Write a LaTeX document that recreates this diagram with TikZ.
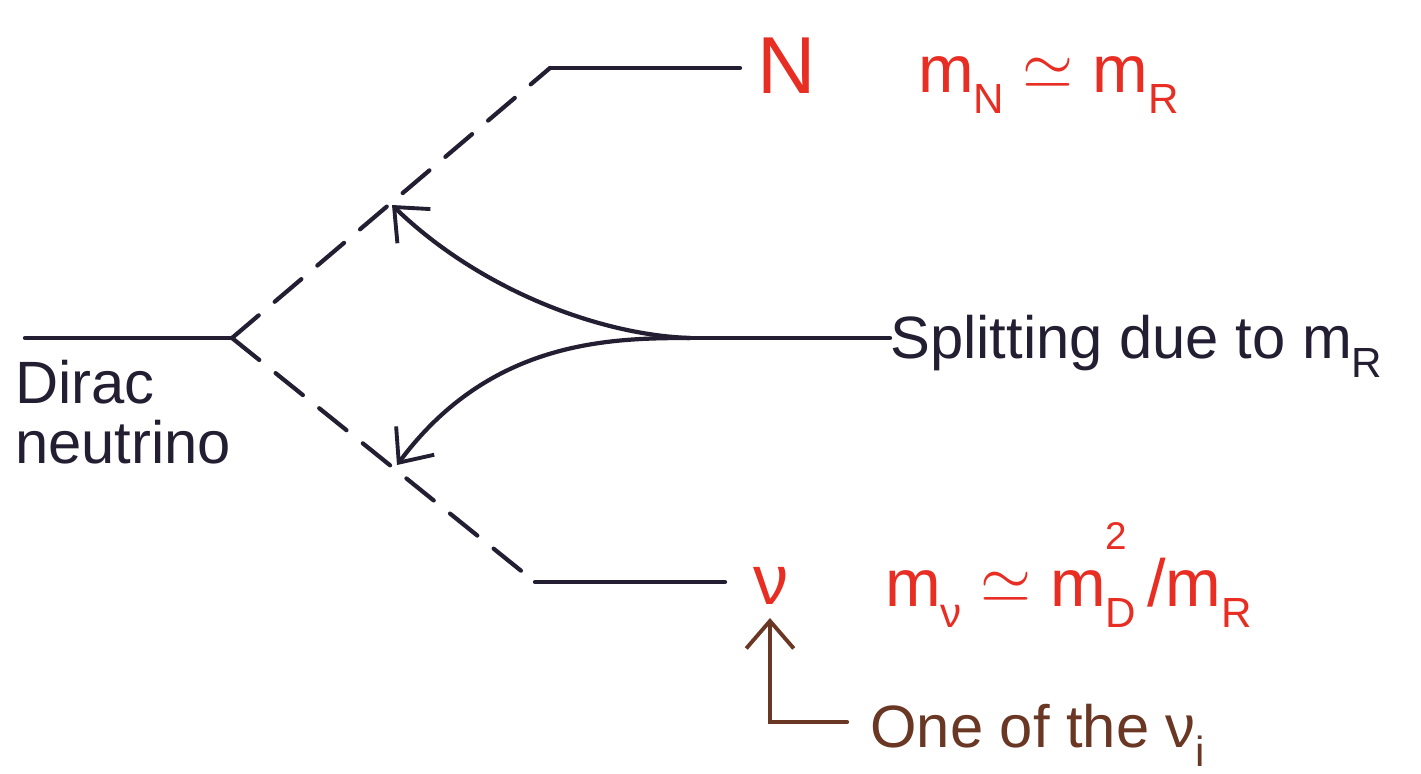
\documentclass[tikz,border=0pt]{standalone}
\usepackage{fontspec}
\setmainfont{Liberation Sans}
\usetikzlibrary{arrows.meta}
\definecolor{ink}{RGB}{35,30,50}
\definecolor{redink}{RGB}{232,45,35}
\definecolor{brownink}{RGB}{105,55,35}
\newcommand{\lowsub}[1]{\raisebox{-0.32em}{\fontsize{24}{24}\selectfont #1}}
\newcommand{\highsup}[1]{\raisebox{0.85em}{\fontsize{22}{22}\selectfont #1}}
\newcommand{\bigsim}{\raisebox{0.05em}{\scalebox{1.5}{$\simeq$}}}
\tikzset{
  pen/.style={draw=ink, line width=2.4pt, line cap=round},
  dashpen/.style={pen, dash pattern=on 0.7cm off 0.42cm},
  barb/.style={-{Straight Barb[length=0.55cm,width=0.95cm,line width=2.2pt]}},
  lab/.style={inner sep=0pt, font=\fontsize{34}{40}\selectfont},
  redlab/.style={lab, text=redink, font=\fontsize{38}{44}\selectfont},
}
\begin{document}
\begin{tikzpicture}[x=0.02cm, y=-0.02cm]
\useasboundingbox[fill=white] (0,0) rectangle (1421,774);
% coordinates
\coordinate (S) at (25,338);
\coordinate (J) at (232,338);
\coordinate (U) at (550,68);
\coordinate (UE) at (740,68);
\coordinate (L) at (535,582);
\coordinate (LE) at (725,582);
\coordinate (M) at (690,338);
\coordinate (TU) at (392,205);
\coordinate (TL) at (397,465);
\coordinate (C1) at (847,722);
\coordinate (C2) at (770,618);
% labels
\node[lab, text=ink, anchor=base west] (dirac) at (15,403) {Dirac};
\node[lab, text=ink, anchor=base west] (neutrino) at (15,463) {neutrino};
\node[lab, text=redink, font=\fontsize{46}{50}\selectfont, anchor=base west] (N) at (757,93) {N};
\node[redlab, anchor=base west] (mN) at (918,92) {m\lowsub{N} \bigsim\ m\lowsub{R}};
\node[lab, text=redink, font=\fontsize{40}{44}\selectfont, anchor=base west] (nu) at (753,604) {ν};
\node[redlab, anchor=base west] (mnu) at (885,606) {m\lowsub{ν} \bigsim\ m\rlap{\highsup{2}}\lowsub{D}\,/m\lowsub{R}};
\node[lab, text=ink, anchor=base west] (split) at (890,358) {Splitting due to m\lowsub{R}};
\node[lab, text=brownink, anchor=base west] (one) at (870,747) {One of the ν\lowsub{i}};
% lines
\draw[pen] (S) -- (J);
\draw[dashpen] (J) -- (U);
\draw[dashpen] (J) -- (L);
\draw[pen] (U) -- (UE);
\draw[pen] (L) -- (LE);
\draw[pen] (split.west |- M) -- (M);
\draw[pen, barb] (M) .. controls (600,335) and (480,290) .. (TU);
\draw[pen, barb] (M) .. controls (610,338) and (490,340) .. (TL);
\draw[pen, draw=brownink, barb] (C1) -| (C2);
\end{tikzpicture}
\end{document}
